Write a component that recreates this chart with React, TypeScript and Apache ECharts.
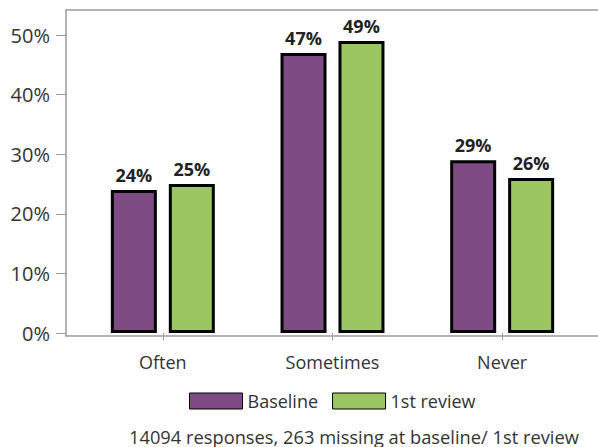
import React, { useEffect, useRef } from "react";
import * as echarts from "echarts";

const categories = ["Often", "Sometimes", "Never"];
const baseline = [24, 47, 29];
const firstReview = [25, 49, 26];
const yTicks = [0, 10, 20, 30, 40, 50];
const footer = "14094 responses, 263 missing at baseline/ 1st review";

const FONT = "Open Sans";

export default function App() {
  const ref = useRef<HTMLDivElement>(null);
  useEffect(() => {
    document.body.style.margin = "0";
    const chart = echarts.init(ref.current!, null, { renderer: "svg" });
    const grey = "#9a9a9a";
    const labelStyle = {
      show: true, position: "top", distance: 6, formatter: "{c}%",
      fontSize: 18, fontWeight: "bold", color: "#222", fontFamily: FONT,
    };
    chart.setOption({
      animation: false,
      textStyle: { fontFamily: FONT },
      title: {
        text: footer,
        left: 124,
        top: 422,
        textStyle: { fontSize: 18.3, fontWeight: "normal", color: "#333", fontFamily: FONT },
      },
      legend: {
        left: 184,
        top: 387,
        itemWidth: 53,
        itemHeight: 16,
        itemGap: 14,
        icon: "rect",
        textStyle: { fontSize: 18, color: "#333", fontFamily: FONT },
        itemStyle: { borderColor: "#000", borderWidth: 1 },
        data: ["Baseline", "1st review"],
      },
      grid: [
        { left: 66, top: 10, right: 0, height: 326 },
        { left: 66, top: 35, right: 0, height: 298 },
        { left: 78, top: 35, width: 509, height: 298 },
      ],
      xAxis: [
        {
          gridIndex: 0, type: "value", position: "bottom", min: 0, max: 1,
          axisLine: { show: true, lineStyle: { color: grey, width: 1.5 } },
          axisTick: { show: false }, axisLabel: { show: false }, splitLine: { show: false },
        },
        {
          gridIndex: 0, type: "value", position: "top", min: 0, max: 1,
          axisLine: { show: true, lineStyle: { color: grey, width: 1.5 } },
          axisTick: { show: false }, axisLabel: { show: false }, splitLine: { show: false },
        },
        { gridIndex: 1, type: "value", min: 0, max: 1, show: false },
        {
          gridIndex: 2, type: "category", data: categories, offset: 3,
          axisLine: { show: false },
          axisTick: { show: true, alignWithLabel: true, length: 7, lineStyle: { color: grey } },
          axisLabel: { fontSize: 18, color: "#333", margin: 17, fontFamily: FONT },
        },
      ],
      yAxis: [
        {
          gridIndex: 0, type: "value", min: 0, max: 1,
          axisLine: { show: true, lineStyle: { color: grey, width: 1.5 } },
          axisTick: { show: false }, axisLabel: { show: false }, splitLine: { show: false },
        },
        {
          gridIndex: 1, type: "value", min: yTicks[0], max: yTicks[yTicks.length - 1], interval: 10,
          axisLine: { show: false },
          axisTick: { show: true, length: 10, lineStyle: { color: grey } },
          axisLabel: { fontSize: 20, color: "#333", margin: 16, formatter: "{value}%", fontFamily: FONT },
          splitLine: { show: false },
        },
        { gridIndex: 2, type: "value", min: yTicks[0], max: yTicks[yTicks.length - 1], show: false },
      ],
      series: [
        {
          name: "Baseline", type: "bar", xAxisIndex: 3, yAxisIndex: 2,
          data: baseline, barWidth: 46, barGap: "26%",
          itemStyle: { color: "#7e4b85", borderColor: "#000", borderWidth: 3 },
          label: labelStyle,
        },
        {
          name: "1st review", type: "bar", xAxisIndex: 3, yAxisIndex: 2,
          data: firstReview, barWidth: 46, barGap: "26%",
          itemStyle: { color: "#9bc662", borderColor: "#000", borderWidth: 3 },
          label: labelStyle,
        },
      ],
    });
    return () => chart.dispose();
  }, []);
  return <div ref={ref} style={{ width: 598, height: 447 }} />;
}
